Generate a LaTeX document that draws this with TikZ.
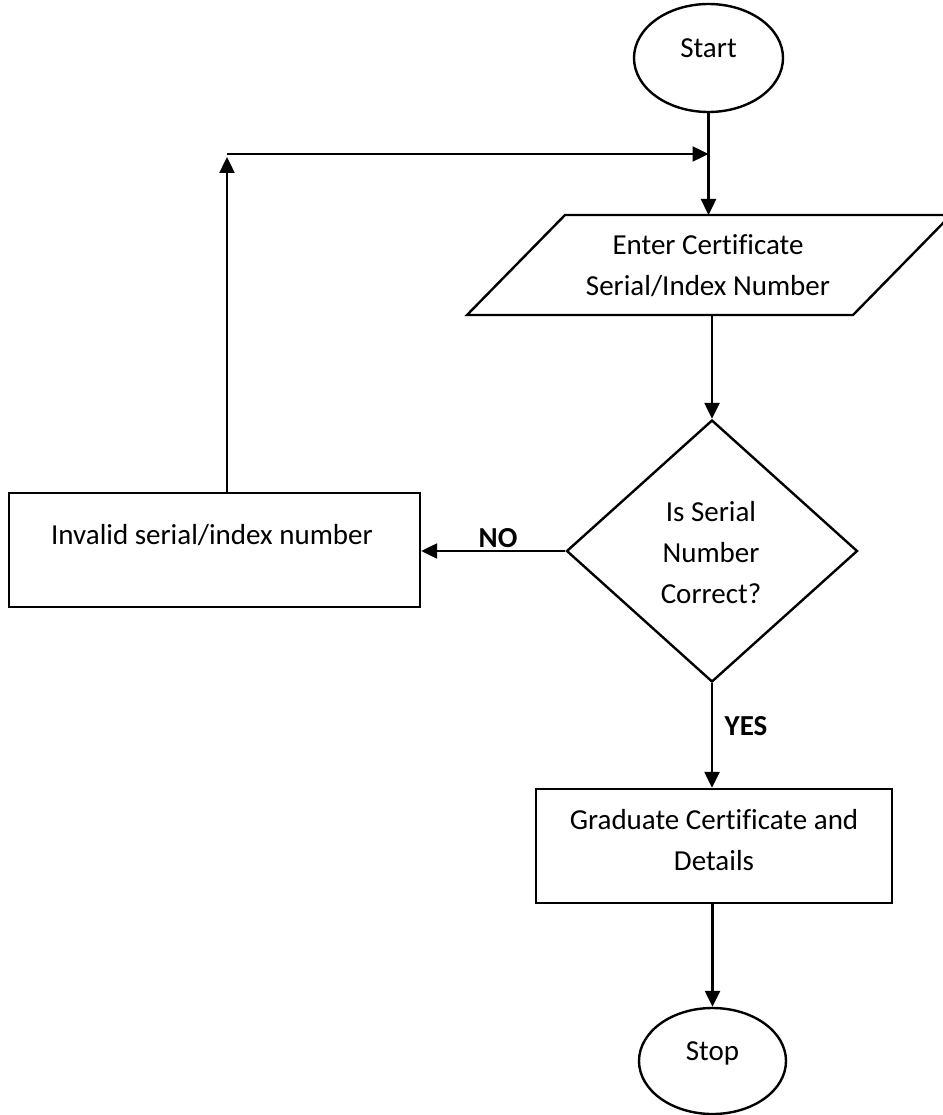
\documentclass[tikz,border=0pt]{standalone}
\usepackage{fontspec}
\setmainfont{Carlito}[Ligatures=CommonOff]
\usetikzlibrary{arrows.meta,shapes.geometric}
\begin{document}
\begin{tikzpicture}[x=1pt,y=-1pt,
  line width=2.4pt,
  flow/.style={-{Triangle[length=16pt,width=15pt]}},
  term/.style={draw,ellipse,inner sep=0pt},
  procbox/.style={draw,rectangle,inner sep=0pt},
  decide/.style={draw,diamond,inner sep=0pt},
  txt/.style={font=\fontsize{29}{41}\selectfont,align=center,inner sep=0pt},
  lbl/.style={font=\fontsize{29}{41}\selectfont\bfseries,inner sep=0pt}]

\useasboundingbox (0,0) rectangle (942,1115);

% terminals
\node[term,minimum width=149pt,minimum height=108pt] (start) at (708.5,58) {};
\node[txt] (starttext) at (708.5,48) {Start};
\node[term,minimum width=147pt,minimum height=106pt] (stop) at (712.5,1061) {};
\node[txt] (stoptext) at (712.5,1053) {Stop};

% input parallelogram (its upper right corner runs past the page edge)
\draw (565,215) -- (951,215) -- (853,315) -- (467,315) -- cycle;
\coordinate (inN) at (708.5,215);
\coordinate (inS) at (712,315);
\node[txt] (intext) at (708,266) {Enter Certificate\\Serial/Index Number};

% decision
\node[decide,minimum width=291pt,minimum height=262pt] (dec) at (712,551) {};
\node[txt] (dectext) at (711,553) {Is Serial\\Number\\Correct?};

% process boxes
\node[procbox,minimum width=411pt,minimum height=114pt] (inv) at (214.5,550) {};
\node[txt] (invtext) at (212,535) {Invalid serial/index number};
\node[procbox,minimum width=356pt,minimum height=114pt] (grad) at (714,846) {};
\node[txt] (gradtext) at (714,840) {Graduate Certificate and\\Details};

% connectors
\draw[flow] (start.south) -- (inN);
\draw[flow] (inS) -- (dec.north);
\draw[flow] (dec.west) -- (dec.west -| inv.east);
\draw[flow] (dec.south) -- (dec.south |- grad.north);
\draw[flow] (stop.north |- grad.south) -- (stop.north);

% loop back for a wrong number
\coordinate (fbtip) at (227,157);
\coordinate (fbcorner) at (227,154);
\draw[flow] (fbtip |- inv.north) -- (fbtip);
\draw[flow] (fbcorner) -- (fbcorner -| start.south);

% branch labels
\node[lbl] (nolbl) at (498,538) {NO};
\node[lbl] (yeslbl) at (746,726) {YES};
\end{tikzpicture}
\end{document}
